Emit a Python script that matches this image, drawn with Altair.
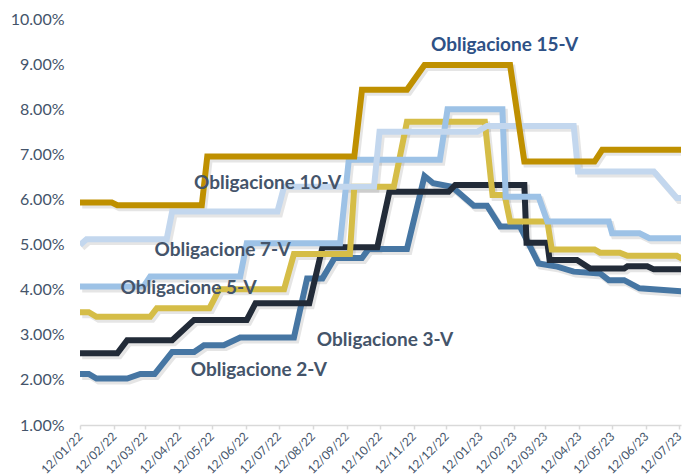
import altair as alt
import pandas as pd

# ---------------- data ----------------
names = ["Obligacione 2-V", "Obligacione 3-V", "Obligacione 5-V",
         "Obligacione 7-V", "Obligacione 10-V", "Obligacione 15-V"]
line_colors = ["#4676A3", "#222B38", "#D5BD47", "#9DC2E6", "#C3D7EE", "#BF9000"]

dates_2v = ["2022-01-12", "2022-01-20", "2022-01-27", "2022-02-24", "2022-03-08", "2022-03-21",
            "2022-04-06", "2022-04-26", "2022-05-05", "2022-05-23", "2022-06-07", "2022-07-26",
            "2022-08-07", "2022-08-21", "2022-09-01", "2022-09-26", "2022-10-02", "2022-11-06",
            "2022-11-22", "2022-11-30", "2022-12-17", "2023-01-06", "2023-01-18", "2023-01-30",
            "2023-02-17", "2023-03-06", "2023-03-23", "2023-04-07", "2023-05-01", "2023-05-09",
            "2023-05-23", "2023-06-06", "2023-07-21"]
values_2v = [2.13, 2.13, 2.03, 2.03, 2.13, 2.13,
             2.62, 2.62, 2.77, 2.77, 2.94, 2.94,
             4.25, 4.25, 4.70, 4.70, 4.90, 4.90,
             6.52, 6.36, 6.28, 5.86, 5.86, 5.40,
             5.40, 4.58, 4.51, 4.40, 4.36, 4.21,
             4.21, 4.03, 3.95]

dates_3v = ["2022-01-12", "2022-02-15", "2022-02-24", "2022-04-06", "2022-04-26", "2022-06-13",
            "2022-06-21", "2022-08-09", "2022-08-21", "2022-10-10", "2022-10-21", "2022-12-14",
            "2022-12-20", "2023-02-21", "2023-02-23", "2023-03-14", "2023-03-16", "2023-04-10",
            "2023-04-22", "2023-05-23", "2023-05-26", "2023-06-13", "2023-06-19", "2023-07-21"]
values_3v = [2.59, 2.59, 2.88, 2.88, 3.33, 3.33,
             3.70, 3.70, 4.94, 4.94, 6.17, 6.17,
             6.32, 6.32, 5.04, 5.04, 4.66, 4.66,
             4.47, 4.47, 4.52, 4.52, 4.45, 4.45]

dates_5v = ["2022-01-12", "2022-01-20", "2022-01-27", "2022-03-17", "2022-03-23", "2022-05-10",
            "2022-05-19", "2022-07-17", "2022-07-26", "2022-09-15", "2022-09-19", "2022-10-25",
            "2022-11-06", "2023-01-16", "2023-01-23", "2023-02-03", "2023-02-08", "2023-03-14",
            "2023-03-18", "2023-04-26", "2023-05-01", "2023-05-19", "2023-05-26", "2023-07-10",
            "2023-07-17", "2023-07-21"]
values_5v = [3.50, 3.50, 3.40, 3.40, 3.59, 3.59,
             4.01, 4.01, 4.79, 4.79, 6.28, 6.28,
             7.72, 7.72, 6.10, 6.10, 5.51, 5.51,
             4.89, 4.89, 4.82, 4.82, 4.75, 4.75,
             4.66, 4.66]

dates_7v = ["2022-01-12", "2022-03-11", "2022-03-17", "2022-06-07", "2022-06-13", "2022-09-06",
            "2022-09-14", "2022-12-06", "2022-12-13", "2023-02-01", "2023-02-04", "2023-03-06",
            "2023-03-14", "2023-05-09", "2023-05-12", "2023-06-06", "2023-06-15", "2023-07-21"]
values_7v = [4.07, 4.07, 4.29, 4.29, 5.03, 5.03,
             6.88, 6.88, 8.00, 8.00, 6.06, 6.06,
             5.51, 5.51, 5.25, 5.25, 5.14, 5.14]

dates_10v = ["2022-01-12", "2022-01-18", "2022-04-01", "2022-04-06", "2022-07-11", "2022-07-17",
             "2022-10-07", "2022-10-12", "2023-01-09", "2023-01-18", "2023-04-07", "2023-04-11",
             "2023-06-19", "2023-07-10", "2023-07-21"]
values_10v = [4.99, 5.12, 5.12, 5.73, 5.73, 6.28,
              6.28, 7.50, 7.50, 7.63, 7.63, 6.62,
              6.62, 6.03, 6.03]

dates_15v = ["2022-01-12", "2022-02-10", "2022-02-15", "2022-05-03", "2022-05-08", "2022-09-19",
             "2022-09-26", "2022-11-06", "2022-11-22", "2023-02-08", "2023-02-21", "2023-04-26",
             "2023-05-03", "2023-07-21"]
values_15v = [5.93, 5.93, 5.87, 5.87, 6.95, 6.95,
              8.43, 8.43, 8.98, 8.98, 6.84, 6.84,
              7.10, 7.10]

# in-chart series labels
label_dates = ["2022-06-24", "2022-10-17", "2022-04-21", "2022-05-22", "2022-07-02", "2023-02-03"]
label_values = [2.22, 2.88, 4.04, 4.88, 6.37, 9.43]
label_colors = ["#44546A", "#44546A", "#44546A", "#44546A", "#44546A", "#2E5186"]

tick_months = [(2022, m) for m in range(1, 13)] + [(2023, m) for m in range(1, 8)]
y_ticks = [1, 2, 3, 4, 5, 6, 7, 8, 9, 10]

# ---------------- build tables ----------------
all_dates = [dates_2v, dates_3v, dates_5v, dates_7v, dates_10v, dates_15v]
all_values = [values_2v, values_3v, values_5v, values_7v, values_10v, values_15v]

frames = []
for n, ds, vs in zip(names, all_dates, all_values):
    f = pd.DataFrame({"series": n, "date": pd.to_datetime(ds), "value": vs})
    frames.append(f)

labels_df = pd.DataFrame({"text": names, "date": pd.to_datetime(label_dates),
                          "value": label_values, "color": label_colors})

x_scale = alt.Scale(domain=[alt.DateTime(year=2022, month=1, date=12),
                            alt.DateTime(year=2023, month=7, date=13, hours=19)])
y_scale = alt.Scale(domain=[1, 10], nice=False, zero=False)

x_axis = alt.Axis(values=[alt.DateTime(year=y, month=m, date=12) for y, m in tick_months],
                  format="%d/%m/%y", labelAngle=315, labelAlign="right", labelBaseline="middle",
                  labelPadding=5, labelFlush=False, labelOverlap=False,
                  labelFont="Lato", labelFontSize=12, labelColor="#44546A",
                  domainColor="#D9D9D9", domainWidth=1.5, tickColor="#D9D9D9",
                  tickWidth=1.5, tickSize=4, grid=False, title=None)
y_axis = alt.Axis(values=y_ticks, labelExpr="format(datum.value, '.2f') + '%'",
                  labelFont="Lato", labelFontSize=16, labelColor="#44546A",
                  labelPadding=16, domain=False, ticks=False, grid=False, title=None)

layers = []
# soft shadows
for f in frames:
    s = f.copy()
    s["date"] = s["date"] + pd.Timedelta(days=2)
    s["value"] = s["value"] - 0.06
    layers.append(
        alt.Chart(s).mark_line(strokeWidth=6.5, color="#000000", opacity=0.10, clip=True).encode(
            x=alt.X("date:T", scale=x_scale, axis=x_axis),
            y=alt.Y("value:Q", scale=y_scale, axis=y_axis),
        )
    )
# lines
for f, c in zip(frames, line_colors):
    layers.append(
        alt.Chart(f).mark_line(strokeWidth=6, color=c, clip=True).encode(
            x=alt.X("date:T", scale=x_scale, axis=x_axis),
            y=alt.Y("value:Q", scale=y_scale, axis=y_axis),
        )
    )
# labels
layers.append(
    alt.Chart(labels_df).mark_text(font="Lato", fontWeight="bold", fontSize=19,
                                   align="center", baseline="middle").encode(
        x=alt.X("date:T", scale=x_scale, axis=x_axis),
        y=alt.Y("value:Q", scale=y_scale, axis=y_axis),
        text="text:N",
        color=alt.Color("color:N", scale=None),
    )
)

chart = alt.layer(*layers).properties(
    width=601, height=406, autosize="none",
    padding={"left": 72, "top": 11, "right": 3, "bottom": 51},
    background="white",
).configure_view(stroke=None)

chart.save("out.html", embed_options={"renderer": "svg", "actions": False})
